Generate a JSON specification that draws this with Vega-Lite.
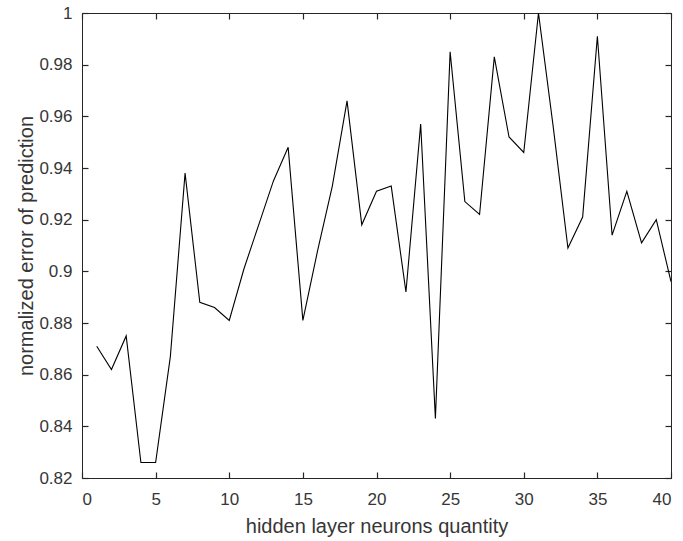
{
  "$schema": "https://vega.github.io/schema/vega-lite/v6.json",
  "width": 589,
  "height": 465,
  "autosize": {"type": "none"},
  "padding": {"left": 82, "top": 13, "right": 12, "bottom": 63},
  "background": "white",
  "config": {
    "view": {"stroke": "#262626", "strokeWidth": 1},
    "axis": {
      "labelFont": "Liberation Sans",
      "titleFont": "Liberation Sans",
      "labelFontSize": 17,
      "titleFontSize": 20,
      "titleFontWeight": "normal",
      "labelColor": "#363636",
      "titleColor": "#363636",
      "domainColor": "#262626",
      "tickColor": "#262626",
      "tickWidth": 1.2,
      "domainWidth": 1,
      "grid": false,
      "tickSize": 6
    }
  },
  "data": {
    "values": [
      {"n": 1, "err": 0.871},
      {"n": 2, "err": 0.862},
      {"n": 3, "err": 0.875},
      {"n": 4, "err": 0.826},
      {"n": 5, "err": 0.826},
      {"n": 6, "err": 0.867},
      {"n": 7, "err": 0.938},
      {"n": 8, "err": 0.888},
      {"n": 9, "err": 0.886},
      {"n": 10, "err": 0.881},
      {"n": 11, "err": 0.901},
      {"n": 12, "err": 0.918},
      {"n": 13, "err": 0.935},
      {"n": 14, "err": 0.948},
      {"n": 15, "err": 0.881},
      {"n": 16, "err": 0.908},
      {"n": 17, "err": 0.933},
      {"n": 18, "err": 0.966},
      {"n": 19, "err": 0.918},
      {"n": 20, "err": 0.931},
      {"n": 21, "err": 0.933},
      {"n": 22, "err": 0.892},
      {"n": 23, "err": 0.957},
      {"n": 24, "err": 0.843},
      {"n": 25, "err": 0.985},
      {"n": 26, "err": 0.927},
      {"n": 27, "err": 0.922},
      {"n": 28, "err": 0.983},
      {"n": 29, "err": 0.952},
      {"n": 30, "err": 0.946},
      {"n": 31, "err": 1.0},
      {"n": 32, "err": 0.956},
      {"n": 33, "err": 0.909},
      {"n": 34, "err": 0.921},
      {"n": 35, "err": 0.991},
      {"n": 36, "err": 0.914},
      {"n": 37, "err": 0.931},
      {"n": 38, "err": 0.911},
      {"n": 39, "err": 0.920},
      {"n": 40, "err": 0.896}
    ]
  },
  "layer": [
    {
      "mark": {"type": "line", "color": "black", "strokeWidth": 1.1, "clip": true},
      "encoding": {
        "x": {
          "field": "n", "type": "quantitative",
          "scale": {"domain": [0, 40], "nice": false, "zero": false},
          "axis": {"title": "hidden layer neurons quantity", "values": [0,5,10,15,20,25,30,35,40], "ticks": false, "titlePadding": 9, "labelPadding": 13}
        },
        "y": {
          "field": "err", "type": "quantitative",
          "scale": {"domain": [0.82, 1.0], "nice": false, "zero": false},
          "axis": {"title": "normalized error of prediction", "values": [0.82,0.84,0.86,0.88,0.9,0.92,0.94,0.96,0.98,1.0], "format": "~g", "ticks": false, "titlePadding": 2, "labelPadding": 10}
        }
      }
    },
    {
      "mark": {"type": "line", "opacity": 0},
      "encoding": {
        "x": {
          "field": "n", "type": "quantitative",
          "scale": {"domain": [0, 40], "nice": false, "zero": false},
          "axis": {"orient": "bottom", "offset": -465, "title": null, "labels": false, "domain": false, "values": [0,5,10,15,20,25,30,35,40]}
        },
        "y": {
          "field": "err", "type": "quantitative",
          "scale": {"domain": [0.82, 1.0], "nice": false, "zero": false},
          "axis": {"orient": "right", "offset": -589, "title": null, "labels": false, "domain": false, "values": [0.82,0.84,0.86,0.88,0.9,0.92,0.94,0.96,0.98,1.0]}
        }
      }
    },
    {
      "mark": {"type": "line", "opacity": 0},
      "encoding": {
        "x": {
          "field": "n", "type": "quantitative",
          "scale": {"domain": [0, 40], "nice": false, "zero": false},
          "axis": {"orient": "top", "offset": -465, "title": null, "labels": false, "domain": false, "values": [0,5,10,15,20,25,30,35,40]}
        },
        "y": {
          "field": "err", "type": "quantitative",
          "scale": {"domain": [0.82, 1.0], "nice": false, "zero": false},
          "axis": {"orient": "left", "offset": -589, "title": null, "labels": false, "domain": false, "values": [0.82,0.84,0.86,0.88,0.9,0.92,0.94,0.96,0.98,1.0]}
        }
      }
    }
  ],
  "resolve": {"axis": {"x": "independent", "y": "independent"}}
}
